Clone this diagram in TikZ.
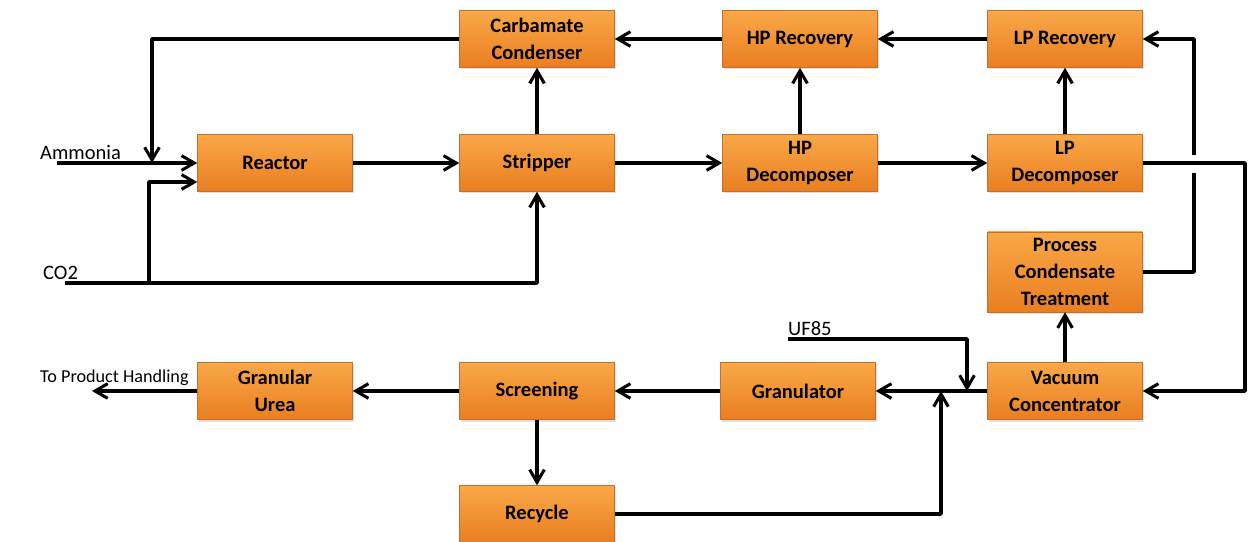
\documentclass[tikz,border=0pt]{standalone}
\usepackage{fontspec}
\setmainfont{Carlito}
\usetikzlibrary{arrows.meta,calc,shadows}
\definecolor{boxtop}{RGB}{250,168,72}
\definecolor{boxbot}{RGB}{233,126,32}
\definecolor{boxline}{RGB}{196,112,44}
\begin{document}
\begin{tikzpicture}[x=0.03cm,y=-0.03cm,line join=round,
	box/.style={draw=boxline,line width=0.4pt,top color=boxtop,bottom color=boxbot,
		minimum width=4.65cm,minimum height=1.71cm,align=center,inner sep=1pt,
		font=\fontsize{17.5}{23}\selectfont\bfseries,
		drop shadow={opacity=0.25,shadow xshift=0.4mm,shadow yshift=-0.6mm}},
	flow/.style={line width=3pt,-{Straight Barb[length=3.8mm,width=4.4mm,line width=2.6pt]}},
	pipe/.style={line width=3pt},
	lbl/.style={font=\fontsize{17.5}{21}\selectfont,inner sep=0pt}]
	\useasboundingbox (0,0) rectangle (1253,542);
	% boxes
	\node[box] (carb) at (537,39) {Carbamate\\Condenser};
	\node[box] (hprec) at (800,39) {HP Recovery};
	\node[box] (lprec) at (1065,39) {LP Recovery};
	\node[box] (reactor) at (275,163) {Reactor};
	\node[box] (stripper) at (537,163) {Stripper};
	\node[box] (hpdec) at (800,163) {HP\\Decomposer};
	\node[box] (lpdec) at (1065,163) {LP\\Decomposer};
	\node[box,minimum height=2.4cm] (proc) at (1065,272) {Process\\Condensate\\Treatment};
	\node[box] (vac) at (1065,391) {Vacuum\\Concentrator};
	\node[box] (gran) at (798,391) {Granulator};
	\node[box] (screen) at (537,391) {Screening};
	\node[box] (urea) at (275,391) {Granular\\Urea};
	\node[box] (recycle) at (537,514) {Recycle};
	% free ends
	\coordinate (nh3) at (57,163);
	\coordinate (mix) at (152,163);
	\coordinate (co2) at (65,283);
	\coordinate (split) at (149,283);
	\coordinate (rt) at (1245,391);
	\coordinate (gapbot) at (1194,173);
	\coordinate (gaptop) at (1194,155);
	\coordinate (uf) at (788,339);
	\coordinate (ufin) at (967,391);
	\coordinate (rcin) at (941,391);
	\coordinate (out) at (92,391);
	% labels
	\node[lbl,anchor=base west] (nh3lbl) at (40,160) {Ammonia};
	\node[lbl,anchor=base west] (co2lbl) at (43,280) {CO2};
	\node[lbl,anchor=base west] (uflbl) at (788,336) {UF85};
	\node[lbl,anchor=base west,font=\fontsize{15.5}{19}\selectfont] (outlbl) at (40,383) {To Product Handling};
	% flows
	\draw[flow] (nh3) -- (reactor.west);
	\draw[flow] (carb.west) -| (mix);
	\draw[flow] (co2) -| (stripper.south);
	\draw[flow] (split) |- ($(reactor.west)+(0,19)$);
	\foreach \a/\b in {reactor/stripper,stripper/hpdec,hpdec/lpdec}
	\draw[flow] (\a.east) -- (\b.west);
	\foreach \a/\b in {stripper/carb,hpdec/hprec,lpdec/lprec,vac/proc}
	\draw[flow] (\a.north) -- (\b.south);
	\draw[flow] (hprec.west) -- (carb.east);
	\draw[flow] (lprec.west) -- (hprec.east);
	\draw[pipe] (proc.east) -| (gapbot);
	\draw[flow] (gaptop) |- (lprec.east);
	\draw[flow] (lpdec.east) -| (rt) -- (vac.east);
	\draw[flow] (vac.west) -- (gran.east);
	\draw[flow] (uf) -| (ufin);
	\draw[flow] (recycle.east) -| (rcin);
	\draw[flow] (gran.west) -- (screen.east);
	\draw[flow] (screen.west) -- (urea.east);
	\draw[flow] (urea.west) -- (out);
	\draw[flow] (screen.south) -- (recycle.north);
\end{tikzpicture}
\end{document}
